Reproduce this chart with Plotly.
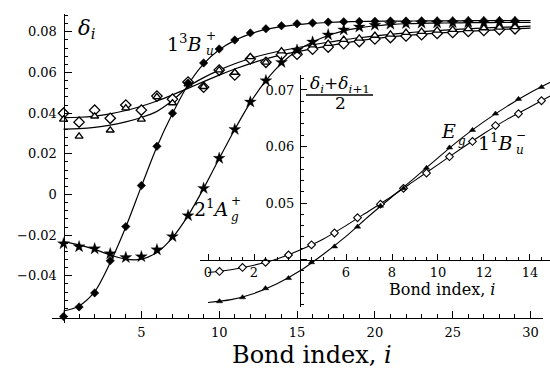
import numpy as np
import plotly.graph_objects as go

W, H = 550, 368
FONT = "DejaVu Serif"

# ---------------- data: main panel ----------------
bond_pts = list(range(0, 30))          # bond index of plotted points
bond_fit = list(range(0, 31))          # bond index of fitted curves

b3u_pts = [-0.0600, -0.0553, -0.0484, -0.0326, -0.0158, 0.0044, 0.0237, 0.0400, 0.0548, 0.0647,
           0.0716, 0.0760, 0.0795, 0.0815, 0.0830, 0.0840, 0.0844, 0.0848, 0.0850, 0.0851,
           0.0852, 0.0853, 0.0853, 0.0854, 0.0854, 0.0854, 0.0855, 0.0855, 0.0855, 0.0855]
b3u_fit = [-0.0573, -0.0548, -0.0478, -0.0335, -0.0160, 0.0040, 0.0235, 0.0398, 0.0540, 0.0643,
           0.0712, 0.0758, 0.0790, 0.0812, 0.0826, 0.0836, 0.0842, 0.0846, 0.0849, 0.0851,
           0.0852, 0.0853, 0.0853, 0.0854, 0.0854, 0.0854, 0.0855, 0.0855, 0.0855, 0.0855, 0.0855]

a2g_pts = [-0.0242, -0.0257, -0.0267, -0.0291, -0.0310, -0.0306, -0.0272, -0.0207, -0.0104, 0.0030,
           0.0178, 0.0320, 0.0455, 0.0560, 0.0650, 0.0710, 0.0750, 0.0785, 0.0810, 0.0824,
           0.0833, 0.0838, 0.0841, 0.0843, 0.0844, 0.0845, 0.0846, 0.0846, 0.0847, 0.0847]
a2g_fit = [-0.0232, -0.0248, -0.0270, -0.0297, -0.0318, -0.0318, -0.0285, -0.0212, -0.0104, 0.0030,
           0.0177, 0.0320, 0.0452, 0.0560, 0.0645, 0.0707, 0.0750, 0.0782, 0.0805, 0.0820,
           0.0830, 0.0836, 0.0840, 0.0842, 0.0843, 0.0844, 0.0845, 0.0845, 0.0846, 0.0846, 0.0846]

bu1_pts = [0.0400, 0.0356, 0.0415, 0.0375, 0.0440, 0.0415, 0.0484, 0.0469, 0.0553, 0.0528,
           0.0612, 0.0588, 0.0667, 0.0650, 0.0688, 0.0690, 0.0715, 0.0725, 0.0742, 0.0752,
           0.0765, 0.0772, 0.0780, 0.0786, 0.0792, 0.0797, 0.0802, 0.0807, 0.0811, 0.0815]
bu1_fit = [0.0378, 0.0380, 0.0386, 0.0397, 0.0413, 0.0434, 0.0460, 0.0490, 0.0522, 0.0555,
           0.0587, 0.0617, 0.0644, 0.0667, 0.0687, 0.0703, 0.0717, 0.0731, 0.0745, 0.0757,
           0.0767, 0.0775, 0.0782, 0.0788, 0.0794, 0.0799, 0.0803, 0.0807, 0.0811, 0.0815, 0.0818]

eg_pts = [0.0370, 0.0286, 0.0385, 0.0316, 0.0425, 0.0370, 0.0480, 0.0450, 0.0543, 0.0530,
          0.0612, 0.0600, 0.0677, 0.0650, 0.0705, 0.0708, 0.0735, 0.0742, 0.0762, 0.0768,
          0.0782, 0.0788, 0.0796, 0.0801, 0.0807, 0.0811, 0.0815, 0.0819, 0.0822, 0.0825]
eg_fit = [0.0322, 0.0324, 0.0330, 0.0341, 0.0357, 0.0379, 0.0409, 0.0462, 0.0530, 0.0575,
          0.0612, 0.0643, 0.0669, 0.0690, 0.0707, 0.0722, 0.0736, 0.0749, 0.0761, 0.0771,
          0.0780, 0.0788, 0.0795, 0.0801, 0.0806, 0.0811, 0.0815, 0.0819, 0.0822, 0.0825, 0.0828]

main_xticks = [5, 10, 15, 20, 25, 30]
main_yticks = [-0.04, -0.02, 0.0, 0.02, 0.04, 0.06, 0.08]
main_ytext = ["\u22120.04", "\u22120.02", "0", "0.02", "0.04", "0.06", "0.08"]

# ---------------- data: inset (average of neighbouring bonds) ----------------
inset_pts_x = [0.5, 1.5, 2.5, 3.5, 4.5, 5.5, 6.5, 7.5, 8.5, 9.5, 10.5, 11.5, 12.5, 13.5, 14.5]
inset_bu1 = [0.0379, 0.0386, 0.0395, 0.0408, 0.0426, 0.0447, 0.0474, 0.0498, 0.0526, 0.0553,
             0.0582, 0.0609, 0.0637, 0.0658, 0.0681]
inset_eg = [0.0326, 0.0333, 0.0349, 0.0367, 0.0395, 0.0423, 0.0458, 0.0495, 0.0526, 0.0562,
            0.0598, 0.0629, 0.0658, 0.0684, 0.0705]
inset_fit_x = list(range(0, 16))
inset_bu1_fit = [0.0377, 0.0382, 0.0390, 0.0401, 0.0417, 0.0436, 0.0460, 0.0486, 0.0512, 0.0540,
                 0.0568, 0.0596, 0.0623, 0.0648, 0.0670, 0.0692]
inset_eg_fit = [0.0324, 0.0329, 0.0340, 0.0357, 0.0380, 0.0409, 0.0441, 0.0477, 0.0511, 0.0545,
                0.0580, 0.0614, 0.0644, 0.0671, 0.0695, 0.0716]
inset_xticks = [0, 2, 4, 6, 8, 10, 12, 14]
inset_xtext = ["0", "2", " ", "6", "8", "10", "12", "14"]
inset_yticks = [0.04, 0.05, 0.06, 0.07]
inset_ytext = [" ", "0.05", "0.06", "0.07"]


def PX(px):
    return px / W


def PY(py):
    return 1 - py / H


fig = go.Figure()
LW = 1.2


def line(x, y, ax="x", ay="y", w=LW):
    fig.add_trace(go.Scatter(x=x, y=y, mode="lines", xaxis=ax, yaxis=ay,
                             line=dict(color="black", width=w, shape="spline", smoothing=0.8),
                             hoverinfo="skip", showlegend=False))


def pts(x, y, symbol, size, ax="x", ay="y", lw=1.0, fill="black"):
    fig.add_trace(go.Scatter(x=x, y=y, mode="markers", xaxis=ax, yaxis=ay, cliponaxis=False,
                             marker=dict(symbol=symbol, size=size, color=fill,
                                         line=dict(color="black", width=lw)),
                             showlegend=False))


# main fits
line(bond_fit, bu1_fit)
line(bond_fit, eg_fit)
line(bond_fit, b3u_fit)
line(bond_fit, a2g_fit)
# main points
pts(bond_pts, bu1_pts, "diamond", 8, lw=1.3, fill="white")
pts(bond_pts, eg_pts, "triangle-up", 7, lw=1.3, fill="white")
pts(bond_pts, b3u_pts, "diamond", 6.5, lw=0.5)
pts(bond_pts, a2g_pts, "star", 9, lw=0.3)

# inset
line(inset_fit_x, inset_bu1_fit, "x2", "y2", 1.1)
line(inset_fit_x, inset_eg_fit, "x2", "y2", 1.1)
pts(inset_pts_x, inset_bu1, "diamond", 6, "x2", "y2", lw=1.1, fill="white")
pts(inset_pts_x, inset_eg, "triangle-up", 5.5, "x2", "y2", lw=0.5)

# ---------------- axes ----------------
tickfont = dict(family=FONT, size=13, color="black")
main_ymin = (194.5 - 323) / 2033
main_ymax = (194.5 - 14) / 2033

common = dict(showgrid=False, zeroline=False, showline=True, linecolor="black", linewidth=1,
              ticks="inside", tickcolor="black", tickwidth=1, tickfont=tickfont, anchor="free")

fig.update_layout(
    width=W, height=H, margin=dict(l=0, r=0, t=0, b=0),
    paper_bgcolor="white", plot_bgcolor="rgba(0,0,0,0)",
    font=dict(family=FONT, color="black"),
    showlegend=False,
    xaxis=dict(domain=[PX(52), PX(543)], range=[-0.74, 30.8], position=PY(317.5),
               tickmode="array", tickvals=main_xticks, ticktext=[str(t) for t in main_xticks],
               ticklen=7, ticklabelstandoff=3,
               minor=dict(tickmode="array", tickvals=list(range(0, 31)), ticks="inside",
                          ticklen=3.5, tickcolor="black", showgrid=False),
               **common),
    yaxis=dict(domain=[PY(323), PY(14)], range=[main_ymin, main_ymax], position=PX(63.5),
               tickmode="array", tickvals=main_yticks, ticktext=main_ytext,
               ticklen=7, ticklabelstandoff=4,
               minor=dict(tickmode="array",
                          tickvals=[round(v, 3) for v in np.arange(-0.06, 0.0885, 0.004)],
                          ticks="inside", ticklen=3.5, tickcolor="black", showgrid=False),
               **common),
    xaxis2=dict(domain=[PX(200), 1.0], range=[-0.348, 14.87], position=PY(259.5),
                tickmode="array", tickvals=inset_xticks, ticktext=inset_xtext,
                ticklen=6, ticklabelstandoff=1,
                minor=dict(tickmode="array", tickvals=[v * 0.5 for v in range(0, 30)],
                           ticks="inside", ticklen=3, tickcolor="black", showgrid=False),
                **common),
    yaxis2=dict(domain=[PY(307), PY(75)], range=[0.0316, 0.07265], position=PX(300),
                tickmode="array", tickvals=inset_yticks, ticktext=inset_ytext,
                ticklen=6, ticklabelstandoff=3,
                minor=dict(tickmode="array",
                           tickvals=[round(0.032 + 0.002 * k, 3) for k in range(21)],
                           ticks="inside", ticklen=3, tickcolor="black", showgrid=False),
                **common),
)


# ---------------- text ----------------
def txt(text, x, y, size, xanchor="center", yanchor="middle"):
    fig.add_annotation(text=text, x=PX(x), y=PY(y), xref="paper", yref="paper",
                       showarrow=False, xanchor=xanchor, yanchor=yanchor,
                       font=dict(family=FONT, size=size, color="black"))


txt("Bond index, <i>i</i>", 312, 355, 24)
txt("Bond index, <i>i</i>", 442, 289, 16)
txt("<i>δ</i><sub><i>i</i></sub>", 76, 29, 21, xanchor="left")

# 1^3 B_u^+
txt("1<sup>3</sup><i>B</i>", 204, 43, 19, xanchor="right")
txt("+", 204, 36, 12, xanchor="left")
txt("<i>u</i>", 204, 51, 12, xanchor="left")
# 2^1 A_g^+
txt("2<sup>1</sup><i>A</i>", 230, 208, 19, xanchor="right")
txt("+", 229, 201, 12, xanchor="left")
txt("<i>g</i>", 229, 217, 12, xanchor="left")
# E_g
txt("<i>E</i>", 458, 131, 19, xanchor="right")
txt("<i>g</i>", 456, 141, 12, xanchor="left")
# 1^1 B_u^-
txt("1<sup>1</sup><i>B</i>", 515, 142, 19, xanchor="right")
txt("\u2212", 514, 135, 12, xanchor="left")
txt("<i>u</i>", 514, 150, 12, xanchor="left")

# inset fraction label
txt("<i>δ</i><sub><i>i</i></sub>+<i>δ</i><sub><i>i</i>+1</sub>", 340, 85, 17)
fig.add_shape(type="line", xref="paper", yref="paper", x0=PX(306), x1=PX(373),
              y0=PY(95), y1=PY(95), line=dict(color="black", width=1.3))
txt("2", 340, 103, 17)

fig.write_html("out.html")
